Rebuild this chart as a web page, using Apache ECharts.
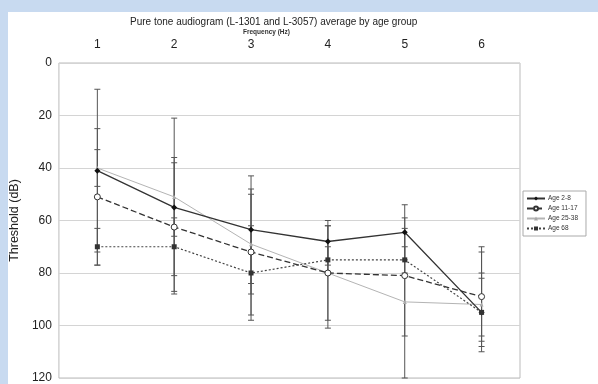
<!DOCTYPE html>
<html>
<head>
<meta charset="utf-8">
<script src="https://cdn.jsdelivr.net/npm/echarts@6/dist/echarts.min.js"></script>
<style>
  html, body { margin: 0; padding: 0; }
  #chart { width: 598px; height: 384px; }
</style>
</head>
<body>
<div id="chart"></div>
<script>
// frequency categories along the top
const freqLabels = ['1', '2', '3', '4', '5', '6']

// mean thresholds (dB) per age group
const age2to8 = [41, 55, 63.5, 68, 64.5, 95]
const age11to17 = [51, 62.5, 72, 80, 81, 89]
const age25to38 = [40, 51, 69, 80, 91, 92]
const age68 = [70, 70, 80, 75, 75, 95]

// error bar ends (low / high dB) per age group
const err2to8Low = [10, 21, 43, 60, 54, 70]
const err2to8High = [72, 88, 84, 77, 75, 110]
const err11to17Low = [25, 38, 48, 62, 59, 72]
const err11to17High = [77, 87, 96, 98, 104, 106]
const err25to38Low = [33, 36, 50, 62, 63, 80]
const err25to38High = [47, 66, 88, 101, 120, 104]
const err68Low = [63, 59, 62, 70, 70, 82]
const err68High = [77, 81, 98, 80, 80, 108]

const legendNames = ['Age 2-8', 'Age 11-17', 'Age 25-38', 'Age 68']

const toErr = (low, high) => low.map((v, i) => [i, v, high[i]])

const renderErr = (params, api) => {
  const x = api.value(0)
  const lo = api.coord([x, api.value(1)])
  const hi = api.coord([x, api.value(2)])
  const w = 3
  const style = { stroke: '#555', lineWidth: 1 }
  return {
    type: 'group',
    children: [
      { type: 'line', shape: { x1: lo[0], y1: lo[1], x2: hi[0], y2: hi[1] }, style },
      { type: 'line', shape: { x1: lo[0] - w, y1: lo[1], x2: lo[0] + w, y2: lo[1] }, style },
      { type: 'line', shape: { x1: hi[0] - w, y1: hi[1], x2: hi[0] + w, y2: hi[1] }, style }
    ]
  }
}

const errSeries = (name, low, high) => ({
  name,
  type: 'custom',
  silent: true,
  z: 1,
  renderItem: renderErr,
  data: toErr(low, high)
})

const chart = echarts.init(document.getElementById('chart'))
chart.setOption({
  backgroundColor: '#c8daf0',
  animation: false,
  textStyle: { fontFamily: 'Liberation Sans, Arial, sans-serif' },
  graphic: [
    { type: 'rect', z: -10, shape: { x: 8, y: 12, width: 590, height: 372 }, style: { fill: '#ffffff' } }
  ],
  title: [
    {
      text: 'Pure tone audiogram (L-1301 and L-3057) average by age group',
      left: 125,
      top: 12,
      textStyle: { fontSize: 10, fontWeight: 'normal', color: '#222' }
    },
    {
      text: 'Frequency (Hz)',
      left: 238,
      top: 24,
      textStyle: { fontSize: 6.5, fontWeight: 'bold', color: '#333' }
    }
  ],
  legend: {
    data: legendNames,
    orient: 'vertical',
    left: 523,
    top: 191,
    itemWidth: 18,
    itemHeight: 5,
    itemGap: 3,
    padding: [4, 8, 4, 3],
    borderColor: '#aaa',
    borderWidth: 1,
    textStyle: { fontSize: 6.5, color: '#333', padding: [0, 0, 0, -2] }
  },
  grid: {
    left: 57,
    right: 78,
    top: 63,
    bottom: 5,
    show: true,
    borderColor: '#bbb',
    borderWidth: 1
  },
  xAxis: {
    type: 'category',
    position: 'top',
    data: freqLabels,
    boundaryGap: true,
    axisLine: { show: false },
    axisTick: { show: false },
    axisLabel: { fontSize: 12, color: '#222', margin: 12 }
  },
  yAxis: {
    type: 'value',
    inverse: true,
    min: 0,
    max: 120,
    interval: 20,
    name: 'Threshold (dB)',
    nameLocation: 'middle',
    nameGap: 36,
    nameTextStyle: { fontSize: 12.5, color: '#222' },
    axisLine: { show: false },
    axisTick: { show: false },
    axisLabel: { fontSize: 12, color: '#222', margin: 7 },
    splitLine: { lineStyle: { color: '#d4d4d4', width: 1 } }
  },
  series: [
    errSeries('err 2-8', err2to8Low, err2to8High),
    errSeries('err 11-17', err11to17Low, err11to17High),
    errSeries('err 25-38', err25to38Low, err25to38High),
    errSeries('err 68', err68Low, err68High),
    {
      name: 'Age 2-8', type: 'line', z: 5, data: age2to8,
      symbol: 'diamond', symbolSize: 6,
      itemStyle: { color: '#111' },
      lineStyle: { color: '#333', width: 1.3 }
    },
    {
      name: 'Age 11-17', type: 'line', z: 5, data: age11to17,
      symbol: 'circle', symbolSize: 6,
      itemStyle: { color: '#fff', borderColor: '#333', borderWidth: 1 },
      lineStyle: { color: '#333', width: 1.3, type: [6, 3] }
    },
    {
      name: 'Age 25-38', type: 'line', z: 4, data: age25to38,
      symbol: 'triangle', symbolSize: 4,
      itemStyle: { color: '#aaa' },
      lineStyle: { color: '#b4b4b4', width: 1 }
    },
    {
      name: 'Age 68', type: 'line', z: 5, data: age68,
      symbol: 'rect', symbolSize: 5,
      itemStyle: { color: '#333' },
      lineStyle: { color: '#444', width: 1.2, type: [2, 2] }
    }
  ]
})
</script>
</body>
</html>
